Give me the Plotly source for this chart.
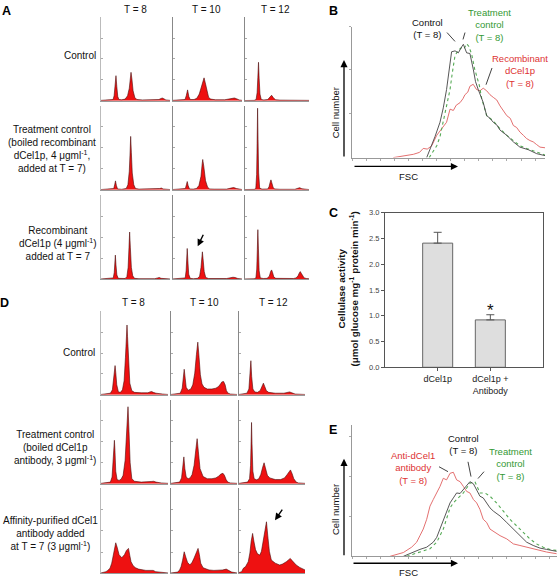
import plotly.graph_objects as go

W, H = 558, 583
FONT = "Arial, 'Liberation Sans', sans-serif"
RED_TXT = "#dd3333"
GRN_TXT = "#339933"

# ---------------- Panel A histograms (channel 0-100, counts 0-100) ----------------
A_CTRL_T8_X = [0, 14, 17.5, 19, 20.3, 21.7, 22.9, 24.3, 26, 30, 35, 38.5, 41, 42.6, 43.5, 44.8, 46.5, 49, 52, 60, 75, 84, 87, 89, 91, 94, 100]
A_CTRL_T8_Y = [0.5, 0.8, 1.5, 6, 16, 30, 17, 5, 1.5, 1.2, 2, 6, 15, 27, 34, 26, 12, 4, 1.5, 1, 0.8, 1.5, 2.8, 3.2, 2.5, 1, 0.5]
A_CTRL_T10_X = [0, 15, 18, 19.8, 21.7, 23.5, 25.5, 31, 35, 38.5, 41.5, 44, 45.4, 47, 49.5, 52, 55, 62, 75, 82, 86, 89, 92, 96, 100]
A_CTRL_T10_Y = [0.5, 0.8, 1.5, 6, 13, 5, 1.5, 1.5, 3, 8, 18, 25, 27.4, 22, 11, 4, 2, 1.2, 1.2, 2, 3, 3.3, 2.5, 1, 0.5]
A_CTRL_T12_X = [0, 15, 18, 19.6, 20.7, 21.7, 22.7, 24, 26, 30, 36, 39.5, 42, 44.5, 48, 55, 100]
A_CTRL_T12_Y = [0.3, 0.5, 1.5, 10, 28, 46, 27, 8, 1.5, 1, 1.5, 4.5, 6.6, 4, 1.2, 0.8, 0.5]
A_TRT_T8_X = [0, 15, 18.5, 19.8, 21, 22.3, 24, 30, 36.5, 39, 41, 42.2, 43, 44, 45.3, 47.5, 50, 55, 80, 85, 87.5, 90, 100]
A_TRT_T8_Y = [0.3, 0.6, 1.5, 6, 10.6, 5, 1, 0.6, 1.5, 6, 22, 45, 63.5, 44, 20, 6, 1.5, 0.8, 0.8, 1.5, 2, 1, 0.3]
A_TRT_T10_X = [0, 15, 18.5, 20, 21.2, 22.5, 24.5, 30, 34.5, 38, 41, 42.7, 43.5, 45, 47.5, 50.5, 53.5, 60, 78, 84, 88, 92, 100]
A_TRT_T10_Y = [0.3, 0.6, 1.5, 6, 9.8, 5, 1, 0.8, 1.5, 5, 16, 31, 36, 28, 11, 3, 1, 0.8, 0.8, 2, 2.7, 1.5, 0.3]
A_TRT_T12_X = [0, 15, 17.5, 18.8, 19.6, 20.3, 21, 21.9, 23.5, 27, 36, 38, 39.8, 41, 42.3, 44.5, 47, 55, 78, 82, 85.5, 89, 100]
A_TRT_T12_Y = [0.3, 0.5, 1.5, 18, 55, 97, 60, 20, 2, 0.8, 1, 3.5, 9, 11.8, 8.5, 2.5, 1, 0.6, 0.6, 1.5, 2.5, 1.2, 0.3]
A_REC_T8_X = [0, 15, 17.8, 19.2, 20, 20.8, 21.7, 23, 25, 30, 35, 37.5, 39.3, 40.6, 41.5, 42.5, 44, 46, 48.5, 55, 78, 82, 84.5, 87, 100]
A_REC_T8_Y = [0.3, 0.6, 1.5, 8, 18, 28.6, 17, 5, 1, 0.6, 0.8, 3, 14, 38, 56, 38, 14, 4, 1, 0.6, 0.6, 1.5, 2, 1, 0.3]
A_REC_T10_X = [0, 15, 18.3, 19.6, 20.4, 21.2, 22.1, 23.3, 25.5, 30, 36, 39, 41, 42.2, 43, 44, 45.6, 47.8, 52, 78, 84, 87, 90, 94, 100]
A_REC_T10_Y = [0.3, 0.6, 1.5, 10, 24, 36.5, 22, 6, 1, 0.6, 1, 3.5, 14, 27, 32.5, 24, 9, 2, 0.8, 0.8, 2, 2.3, 2, 0.8, 0.3]
A_REC_T12_X = [0, 15, 17.7, 19, 19.9, 20.7, 21.6, 22.7, 24.5, 29, 35, 38.5, 40.5, 42, 43.5, 45.5, 48.5, 60, 76, 80, 83, 85, 86.5, 88, 90, 92.5, 96, 100]
A_REC_T12_Y = [0.3, 0.5, 1.5, 12, 35, 58.8, 36, 10, 1.5, 0.8, 1, 3.5, 9, 11, 8, 2.5, 1, 0.8, 0.8, 1.5, 4, 7.5, 9, 7, 4, 1.5, 0.8, 0.5]

# ---------------- Panel D histograms ----------------
D_CTRL_T8_X = [0, 8, 14, 17, 19, 20, 21, 22, 23.5, 26, 29, 32, 34.5, 36.5, 38, 38.8, 39.6, 41, 43, 46, 50, 60, 70, 73, 75.6, 78, 82, 92, 100]
D_CTRL_T8_Y = [0.5, 1, 2, 6, 18, 30, 35, 27, 12, 3.5, 3, 6, 17, 45, 72, 83.5, 70, 38, 14, 5, 3, 2.5, 2.5, 3.5, 4, 3, 2, 1, 0.5]
D_CTRL_T10_X = [0, 8, 14, 17, 18.5, 20, 21.5, 23, 26, 30, 33, 36, 38.5, 40.6, 42.5, 44.5, 47, 50, 55, 62, 68, 72, 75, 77, 79.7, 82, 84, 86.5, 90, 100]
D_CTRL_T10_Y = [0.5, 1, 2, 8, 20, 30.6, 20, 9, 5.5, 7, 12, 26, 48, 63, 45, 24, 13, 9, 7, 7, 8, 10, 13, 15.5, 16, 12, 5, 2, 1, 0.5]
D_CTRL_T12_X = [0, 8, 12, 15, 16.8, 18, 19.2, 21, 24, 28, 32, 35, 37, 39, 41.5, 45, 55, 68, 73, 76.7, 80, 85, 100]
D_CTRL_T12_Y = [0.5, 1, 2, 7, 25, 40.8, 22, 7, 3.5, 3, 5, 10, 14, 10, 5, 3, 2, 2, 3, 3.5, 2.5, 1, 0.5]
D_TRT_T8_X = [0, 8, 14, 16.5, 18.5, 19.5, 20, 20.8, 22, 24, 27, 30, 33, 36, 38.5, 40.3, 41.8, 43.5, 46, 50, 60, 72, 76, 78.5, 82, 90, 100]
D_TRT_T8_Y = [0.5, 1, 2, 8, 30, 46, 51.8, 40, 15, 5, 4, 5.5, 10, 28, 65, 91.7, 62, 25, 6, 3, 2, 2, 2.8, 3, 2, 1, 0.5]
D_TRT_T10_X = [0, 8, 13, 16, 18, 19.5, 21, 23, 26, 29, 32, 35, 37.5, 39.6, 41.5, 44, 48.6, 55, 62, 68, 72, 75.5, 78.7, 81, 83.5, 86, 90, 100]
D_TRT_T10_Y = [0.5, 1, 2, 7, 22, 32, 18, 8, 6, 7, 11, 22, 40, 53.7, 38, 18, 8.6, 6, 6, 7, 9, 11.5, 12.5, 10, 5, 2, 1, 0.5]
D_TRT_T12_X = [0, 8, 13, 16, 17.5, 18.4, 19, 19.7, 21, 23, 26.6, 30, 33, 36, 38, 40, 43, 46.6, 55, 63, 69, 73, 76, 78, 80.5, 83, 86.7, 90, 100]
D_TRT_T12_Y = [0.5, 1, 2, 6, 22, 50, 73, 48, 15, 6, 4.7, 6, 11, 20, 25, 19, 10, 7, 5, 5, 7, 11, 15, 16.5, 12, 6, 2, 1, 0.5]
D_AB_T8_X = [0, 5, 7.5, 10, 13.4, 16, 18.4, 20, 22, 24, 27, 31, 35, 38, 41, 43, 44.8, 48, 51.5, 56, 61.5, 67, 71.6, 75, 78, 81.6, 86, 92, 100]
D_AB_T8_Y = [0.5, 1, 2, 3.5, 5.9, 12, 21, 30, 36, 31, 22, 18.4, 22, 27, 29.4, 21, 13.7, 9, 6.6, 5, 4, 3.5, 3.5, 3.8, 3.5, 2, 1.5, 0.8, 0.5]
D_AB_T10_X = [0, 6, 10.2, 13, 15.2, 17.5, 20, 22.5, 25, 28.6, 32, 35, 38, 41, 43, 45, 48.6, 53, 57.6, 65, 72, 78, 83.7, 88, 92, 100]
D_AB_T10_Y = [0.5, 0.8, 1.5, 4, 7.8, 15, 25.4, 19, 13, 9.8, 13, 18, 25, 29.4, 22, 12, 6.6, 5, 4, 3.5, 3.5, 4, 5, 3, 1.5, 0.5]
D_AB_T12_X = [0, 4, 6.5, 10, 14, 16.5, 18.5, 20.6, 22.5, 25, 28, 31.6, 34, 36.5, 39, 41.6, 43.5, 46, 49, 55, 61.6, 66, 71.7, 75, 77.7, 80.5, 83.5, 86.7, 92, 96.7, 100]
D_AB_T12_Y = [1, 2, 5.9, 8, 13.7, 24, 38, 47, 38, 28, 23, 21.5, 26, 36, 50, 60.7, 45, 26, 15.6, 12, 9.8, 11, 13.7, 16, 17.6, 15, 12, 9.8, 7, 5, 4]

# ---------------- Panel B (FSC distributions) ----------------
B_REC_X = [21.4, 26, 31.8, 35, 36.9, 39, 41.3, 43.9, 45.5, 47.3, 49, 50.8, 52.5, 54, 56, 57.5, 58.5, 60, 61.1, 62.8, 64.5, 66.3, 68, 69.8, 71.5, 73.2, 75, 76.7, 78.5, 80.2, 82, 83.6, 85.3, 87, 88.8, 90.5, 92.2, 93.9, 95.6, 97.4, 100]
B_REC_Y = [0, 1, 2.5, 4, 7, 6.5, 9, 17, 20, 23, 27, 37, 36, 40, 42, 45, 48, 50, 54.5, 56, 52, 51, 53, 51, 48, 46, 44, 39.5, 36, 32, 30, 24.5, 23, 19.5, 17, 14.5, 13, 12, 10, 8, 7.5]
B_CTRL_X = [38.7, 41.3, 43, 45.6, 47.3, 49, 50, 50.8, 51.6, 53.4, 55.1, 56.8, 57.7, 59.4, 61.1, 62.9, 64, 65.4, 67.2, 68, 69.8, 71.5, 73.2, 75, 76.7, 80.2, 83.6, 87, 91.4, 95.7, 100]
B_CTRL_Y = [0, 9.5, 16, 27, 38, 52, 62, 72, 80.8, 81.5, 80, 84.5, 86.5, 80, 79.5, 67, 58, 52, 45, 42, 32, 30, 27, 25, 21, 17, 12, 8, 6, 3, 1.5]
B_TRT_X = [40, 43.9, 45.6, 47.3, 49, 50.8, 52, 53.4, 55.1, 56.8, 58, 59.4, 60.5, 62, 63.5, 64.6, 66, 67.2, 68.5, 69.8, 71.5, 73.2, 76.7, 80.2, 83.6, 87, 90.5, 93.9, 97.4, 100]
B_TRT_Y = [0, 9, 16, 27, 40, 52, 65, 78, 82, 84, 83, 87, 85, 79, 68, 62, 55, 45, 38, 32, 30, 28, 22, 17, 13, 9, 7, 5, 3, 2]

# ---------------- Panel C (cellulase activity) ----------------
C_CATS = ["dCel1p", "dCel1p +<br>Antibody"]
C_VALS = [2.41, 0.92]
C_ERR = [0.21, 0.10]

# ---------------- Panel E (FSC distributions) ----------------
E_AB_X = [19.7, 26.6, 30.9, 33.5, 35.2, 36.9, 38.7, 40.4, 42.1, 43.9, 45.6, 47.3, 49.0, 50.8, 52.5, 54.2, 56.0, 57.7, 59.4, 61.1, 62.9, 64.6, 66.3, 68.0, 69.8, 71.5, 74.1, 76.7, 80.2, 83.6, 87.0, 90.5, 93.9, 97.4, 100.8, 106]
E_AB_Y = [0, 2.9, 7, 10.8, 15.8, 20.8, 28.3, 38.3, 43.4, 48.4, 53.4, 59.6, 58.4, 63.4, 64.2, 58.4, 57, 53.4, 49.6, 48.4, 43.4, 40.8, 35.8, 28.3, 25.8, 20.8, 18.3, 15.8, 13.3, 9.5, 8.3, 7, 5.3, 4.5, 3.3, 2]
E_CTRL_X = [26.6, 31.8, 35.2, 38.7, 42.1, 43.9, 45.6, 47.3, 49.0, 50.8, 52.5, 54.2, 56.0, 57.7, 59.4, 61.1, 62.9, 64.6, 66.3, 68.0, 69.8, 71.5, 73.2, 76.7, 80.2, 83.6, 87.0, 90.5, 93.9, 97.4, 100.8, 106]
E_CTRL_Y = [0, 3.3, 5.3, 7, 10.8, 14.5, 20.8, 27, 33.3, 40.8, 44.6, 48.4, 48, 50.9, 54.6, 57, 55.4, 50.9, 45.9, 44.6, 40.8, 37, 34.6, 30.8, 25.8, 20.8, 15.8, 10.8, 8.3, 6.3, 5.3, 3.8]
E_TRT_X = [28.3, 35.2, 40.4, 43.9, 47.3, 50.8, 52.5, 54.2, 57.7, 61.1, 63.7, 66.3, 68.9, 71.5, 74.9, 78.4, 81.8, 85.3, 88.7, 92.2, 95.6, 99.1, 102.5, 106]
E_TRT_Y = [0, 3.3, 5.8, 10.8, 20.8, 37, 40.8, 43.4, 48.4, 55.8, 57, 48.4, 48.4, 45.9, 40.8, 34.6, 28.3, 23.3, 18.3, 13.3, 9.5, 7, 5.3, 4.5]

# ---------------- labels ----------------
TIME_LABELS = ["T = 8", "T = 10", "T = 12"]
A_ROW_LABELS = ["Control",
                "Treatment control<br>(boiled recombinant<br>dCel1p, 4 \u03bcgml<sup>-1</sup>,<br>added at T = 7)",
                "Recombinant<br>dCel1p (4 \u03bcgml<sup>-1</sup>)<br>added at T = 7"]
D_ROW_LABELS = ["Control",
                "Treatment control<br>(boiled dCel1p<br>antibody, 3 \u03bcgml<sup>-1</sup>)",
                "Affinity-purified dCel1<br>antibody added<br>at T = 7 (3 \u03bcgml<sup>-1</sup>)"]

A_HISTS = [[(A_CTRL_T8_X, A_CTRL_T8_Y), (A_CTRL_T10_X, A_CTRL_T10_Y), (A_CTRL_T12_X, A_CTRL_T12_Y)],
           [(A_TRT_T8_X, A_TRT_T8_Y), (A_TRT_T10_X, A_TRT_T10_Y), (A_TRT_T12_X, A_TRT_T12_Y)],
           [(A_REC_T8_X, A_REC_T8_Y), (A_REC_T10_X, A_REC_T10_Y), (A_REC_T12_X, A_REC_T12_Y)]]
D_HISTS = [[(D_CTRL_T8_X, D_CTRL_T8_Y), (D_CTRL_T10_X, D_CTRL_T10_Y), (D_CTRL_T12_X, D_CTRL_T12_Y)],
           [(D_TRT_T8_X, D_TRT_T8_Y), (D_TRT_T10_X, D_TRT_T10_Y), (D_TRT_T12_X, D_TRT_T12_Y)],
           [(D_AB_T8_X, D_AB_T8_Y), (D_AB_T10_X, D_AB_T10_Y), (D_AB_T12_X, D_AB_T12_Y)]]

# ---------------- layout helpers ----------------
fig = go.Figure()
layout = {}
annotations = []
shapes = []
_n = [0]


def new_axes(x0, x1, top, bottom, xa, ya):
    _n[0] += 1
    n = _n[0]
    s = "" if n == 1 else str(n)
    layout["xaxis" + s] = dict(domain=[x0 / W, x1 / W], anchor="y" + s, **xa)
    layout["yaxis" + s] = dict(domain=[1 - bottom / H, 1 - top / H], anchor="x" + s, **ya)
    return "x" + s, "y" + s


def text(px, py, t, size=10, color="#111", bold=False, angle=0, align="center"):
    if bold:
        t = "<b>" + t + "</b>"
    annotations.append(dict(x=px / W, y=1 - py / H, xref="paper", yref="paper", text=t,
                            showarrow=False, xanchor="center", yanchor="middle",
                            textangle=angle, align=align,
                            font=dict(family=FONT, size=size, color=color)))


def line(x0, y0, x1, y1, color="#111", width=0.8):
    shapes.append(dict(type="line", xref="paper", yref="paper", x0=x0 / W, y0=1 - y0 / H,
                       x1=x1 / W, y1=1 - y1 / H, line=dict(color=color, width=width)))


def arrow(hx, hy, tx, ty, size=1.1, width=1.3):
    annotations.append(dict(x=hx / W, y=1 - hy / H, xref="paper", yref="paper", text="",
                            showarrow=True, ax=tx - hx, ay=ty - hy, axref="pixel", ayref="pixel",
                            arrowhead=2, arrowsize=size, arrowwidth=width, arrowcolor="#000",
                            standoff=0))


def hist_grid(hists, cols, rows):
    for r, (top, bot) in enumerate(rows):
        for c, (x0, x1) in enumerate(cols):
            xa = dict(range=[0, 100], showline=True, linecolor="#999", linewidth=1,
                      showticklabels=False, showgrid=False, zeroline=False, ticks="")
            ya = dict(range=[0, 100], showline=True, linecolor="#bbb" if c == 0 else "#888",
                      linewidth=1, showticklabels=False, showgrid=False, zeroline=False,
                      ticks="inside", ticklen=2, tickcolor="#aaa", tickvals=[25, 50, 75])
            xr, yr = new_axes(x0, x1, top, bot, xa, ya)
            hx, hy = hists[r][c]
            fig.add_trace(go.Scatter(x=hx, y=hy, xaxis=xr, yaxis=yr, mode="lines",
                                     fill="tozeroy", fillcolor="#ee1111",
                                     line=dict(color="#4a0c0c", width=0.6),
                                     hoverinfo="skip", showlegend=False))


# ---------------- Panel A ----------------
A_COLS = [(101, 170), (172.5, 242), (244.5, 309)]
A_ROWS = [(13.3, 98.3), (103.3, 188.7), (194, 279.5)]
hist_grid(A_HISTS, A_COLS, A_ROWS)
for lab, cx in zip(TIME_LABELS, [135, 206, 275]):
    text(cx, 6, lab)
text(80, 52, A_ROW_LABELS[0])
text(52, 147, A_ROW_LABELS[1])
text(58, 243, A_ROW_LABELS[2])
text(6, 7, "A", size=12.5, bold=True, color="#000")
arrow(197.7, 246, 204, 233, size=1.0, width=1.4)

# ---------------- Panel D ----------------
D_COLS = [(101, 168), (171, 237), (239, 305)]
D_ROWS = [(312, 397), (402, 487.3), (492, 578.3)]
hist_grid(D_HISTS, D_COLS, D_ROWS)
for lab, cx in zip(TIME_LABELS, [133, 204, 273]):
    text(cx, 303, lab)
text(79, 354, D_ROW_LABELS[0])
text(55, 450, D_ROW_LABELS[1])
text(50.5, 538, D_ROW_LABELS[2])
text(4, 304, "D", size=12.5, bold=True, color="#000")
arrow(275, 524.3, 283.3, 512.3, size=1.0, width=1.4)


# ---------------- Panels B and E ----------------
def fsc_panel(top, bot, xright, ytickvals, curves):
    xa = dict(range=[0, (xright - 352) / 1.93], showline=True, linecolor="#999", linewidth=1,
              showticklabels=False, showgrid=False, zeroline=False, ticks="outside",
              ticklen=2, tickcolor="#aaa", dtick=7.3, tick0=0)
    ya = dict(range=[0, 100], showline=True, linecolor="#999", linewidth=1,
              showticklabels=False, showgrid=False, zeroline=False, ticks="outside",
              ticklen=2, tickcolor="#aaa", tickvals=ytickvals)
    xr, yr = new_axes(352, xright, top, bot, xa, ya)
    for cx, cy, col, dash, wdt in curves:
        fig.add_trace(go.Scatter(x=cx, y=cy, xaxis=xr, yaxis=yr, mode="lines",
                                 line=dict(color=col, width=wdt, dash=dash),
                                 hoverinfo="skip", showlegend=False))


fsc_panel(23, 156, 545, [33.7, 67.3, 100],
          [(B_REC_X, B_REC_Y, "#e06060", "solid", 0.9),
           (B_TRT_X, B_TRT_Y, "#55aa55", "dot", 1.1),
           (B_CTRL_X, B_CTRL_Y, "#444444", "solid", 0.9)])
text(333, 7.5, "B", size=12.5, bold=True, color="#000")
text(427, 25, "Control<br>(T = 8)", size=9.5)
text(489, 21, "Treatment<br>control<br>(T = 8)", size=9.5, color=GRN_TXT)
text(520, 68, "Recombinant<br>dCel1p<br>(T = 8)", size=9.5, color=RED_TXT)
line(447, 29, 455, 38)
line(465, 29, 463, 36)
line(492, 65, 486, 82)
text(335, 110, "Cell number", size=9.5, angle=-90)
text(408, 175, "FSC", size=9.5)
arrow(344, 57, 344, 155)
arrow(458, 165, 353, 165)

fsc_panel(428, 561, 557, [30.6, 61.2, 91.8],
          [(E_AB_X, E_AB_Y, "#e06060", "solid", 0.9),
           (E_TRT_X, E_TRT_Y, "#55aa55", "dot", 1.1),
           (E_CTRL_X, E_CTRL_Y, "#444444", "solid", 0.9)])
text(333, 432.5, "E", size=12.5, bold=True, color="#000")
text(413, 471, "Anti-dCel1<br>antibody<br>(T = 8)", size=9.5, color=RED_TXT)
text(463, 447.5, "Control<br>(T = 8)", size=9.5)
text(510, 467, "Treatment<br>control<br>(T = 8)", size=9.5, color=GRN_TXT)
line(439, 470, 448, 475)
line(468, 465, 471, 480)
line(484, 475, 478, 482)
text(335, 513, "Cell number", size=9.5, angle=-90)
text(408, 577, "FSC", size=9.5)
arrow(344, 462, 344, 560)
arrow(458, 568, 352, 568)

# ---------------- Panel C ----------------
xa = dict(range=[-1, 2], showline=True, mirror=True, linecolor="#555", linewidth=1,
          tickvals=[0, 1], ticktext=C_CATS, ticks="outside", ticklen=3, tickcolor="#555",
          showgrid=False, zeroline=False, tickfont=dict(family=FONT, size=9, color="#222"))
ya = dict(range=[0, 3], showline=True, mirror=True, linecolor="#555", linewidth=1,
          dtick=0.5, tick0=0, tickformat=".1f", ticks="outside", ticklen=3, tickcolor="#555",
          showgrid=False, zeroline=False, tickfont=dict(family=FONT, size=7.5, color="#444"))
cx, cy = new_axes(385, 543, 212, 369, xa, ya)
fig.add_trace(go.Bar(x=[0, 1], y=C_VALS, xaxis=cx, yaxis=cy, width=0.57,
                     marker=dict(color="#dedede", line=dict(color="#666", width=1)),
                     error_y=dict(type="data", symmetric=False, array=C_ERR, arrayminus=[0, 0],
                                  color="#555", thickness=1, width=4),
                     hoverinfo="skip", showlegend=False))
annotations.append(dict(x=1, y=C_VALS[1] + C_ERR[1] + 0.08, xref=cx, yref=cy, text="*",
                        showarrow=False, yanchor="middle",
                        font=dict(family=FONT, size=17, color="#111")))
text(333, 212.5, "C", size=12.5, bold=True, color="#000")
text(348, 290, "Cellulase activity<br>(\u03bcmol glucose mg<sup>-1</sup> protein min<sup>-1</sup>)",
     size=9.8, bold=True, angle=-90)

layout.update(width=W, height=H, autosize=False, margin=dict(l=0, r=0, t=0, b=0),
              paper_bgcolor="white", plot_bgcolor="rgba(0,0,0,0)",
              annotations=annotations, shapes=shapes, showlegend=False,
              font=dict(family=FONT))
fig.update_layout(**layout)
fig.write_html("out.html", config={"displayModeBar": False, "staticPlot": True},
               post_script="document.body.style.margin='0';document.body.style.overflow='hidden';")
